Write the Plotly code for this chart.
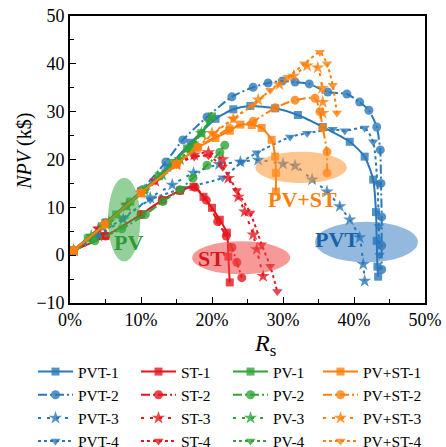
import plotly.graph_objects as go

# ---- data (x in %, NPV in k$) ----
pvt1_x = [0.5, 5, 10, 13.7, 17, 20.5, 23, 25.4, 28.9, 32.1, 35.6, 39.4, 41.5, 42.7, 43.1, 43.2, 43.3, 43.4]
pvt1_y = [1, 6.8, 13.3, 18.3, 23.5, 28.5, 30.5, 31.2, 30.7, 29.3, 26.8, 23.7, 20.6, 15.8, 9, 3, -2.4, -4.5]
pvt2_x = [0.5, 5, 10, 13.5, 15.9, 19.3, 22.8, 25.8, 27.9, 29.9, 31.7, 33.7, 36.3, 39, 40.8, 42.1, 43.2, 43.7, 43.8, 43.9, 43.9, 43.9]
pvt2_y = [1, 6.8, 13.5, 19.5, 24.1, 28.9, 33.1, 35.1, 36, 36.4, 36.2, 35.8, 34.1, 33.7, 32, 30.3, 26.8, 22, 15, 8, 2, -3]
pvt3_x = [0.5, 4, 7.5, 11.3, 14.4, 17.4, 21, 24, 26.5, 30, 31.7, 34.1, 36.2, 38, 39.4, 40.8, 41.3, 41.5]
pvt3_y = [1, 4, 7.5, 12, 14.7, 17.2, 19, 19.5, 19.9, 19.1, 18.7, 15.8, 13.3, 10.2, 7.4, 3.7, -1.9, -5.4]
pvt4_x = [0.5, 4, 7.5, 11.3, 16, 21.5, 24.2, 26.3, 31, 33.4, 37, 38.7, 41.5, 42.7, 43.3, 43.5, 43.6]
pvt4_y = [1, 4.2, 7.8, 11.6, 14, 16.2, 19.5, 21.4, 24.7, 25.5, 26.3, 26, 26.6, 23.7, 15, 6, 0]

st1_x = [0.5, 5, 10, 13, 15.5, 17.4, 18.8, 20, 21.1, 22.1, 22.3, 22.5]
st1_y = [1, 4, 8.5, 11.5, 13.5, 14.3, 12.2, 9.9, 7.4, 4.7, -0.3, -5.7]
st2_x = [0.5, 5, 10, 13, 15.5, 17.6, 19.2, 20.8, 22, 22.8, 23.5, 24.2]
st2_y = [1, 4, 8.5, 11.5, 13.5, 14.2, 11.5, 7, 4, 1.6, -1.5, -4.7]
st3_x = [0.5, 4, 8, 12, 15, 17.5, 19.5, 21.5, 22.3, 23.7, 24.6, 25.8, 26.3, 27.2]
st3_y = [1, 5.5, 10.5, 15.5, 19, 21, 21.5, 20, 16.1, 12.2, 9.1, 4.3, 1.2, -4.4]
st4_x = [0.5, 4, 8, 12, 15, 17.5, 19.5, 21.5, 23.5, 25.4, 27, 28.2, 29.2]
st4_y = [1, 5.5, 10.5, 15.5, 19, 20.5, 20.8, 18.4, 13.5, 8.8, 2.2, -2.3, -7.6]

pv1_x = [0.5, 2.5, 4.5, 6.5, 8.5, 10.5, 12.5, 14.5, 16.5, 18.5, 20]
pv1_y = [1, 3.5, 6, 8.5, 11.2, 13.8, 16.5, 19.3, 22.3, 25.5, 29]
pv2_x = [0.5, 3.5, 7.3, 10.6, 13.1, 15.5, 17.3, 19.3, 21.1, 21.8]
pv2_y = [1, 3, 5.5, 8.5, 11.2, 13.7, 16.1, 18.8, 21.5, 23]
pv3_x = [0.5, 3, 5.5, 8, 10.5, 13, 15.5, 17, 18.5]
pv3_y = [1, 4, 7, 10.2, 13.5, 16.8, 20, 22.3, 25.5]
pv4_x = [0.5, 3, 5.5, 8, 10.5, 13, 15.5, 17.5, 19.5]
pv4_y = [1, 4, 7, 10.2, 13.5, 16.8, 20, 23.3, 28]

pvst1_x = [0.5, 5, 10, 15, 18, 20.5, 22.5, 24, 25.6, 27, 28.4, 28.9, 29, 29]
pvst1_y = [1, 6.5, 13, 19, 22.5, 24.5, 26, 27.3, 27.2, 26.6, 24.1, 20.6, 17.2, 13.3]
pvst2_x = [0.5, 5, 10, 15, 18, 22.5, 25.8, 28.9, 31.7, 34.5, 35.2, 35.6, 36.2, 36.2]
pvst2_y = [1, 6.5, 13, 19, 22.5, 26.5, 28, 30.8, 32.4, 32.8, 30, 26.6, 21.6, 17.2]
pvst3_x = [0.5, 5, 10, 15, 20, 23, 26.5, 29.5, 31.5, 33.4, 34.9, 35.5, 35.6, 35.6]
pvst3_y = [1, 6.5, 13, 19, 25.5, 28.5, 32.5, 35.7, 37.5, 39.6, 39.2, 34.9, 32, 29.7]
pvst4_x = [0.5, 5, 10, 15, 20.2, 23, 25.7, 28.2, 30.7, 33, 35.2, 36.2, 37, 37.6]
pvst4_y = [1, 6.5, 13, 19, 25.4, 28.5, 31.3, 34.5, 37.2, 40, 42.4, 40, 35.5, 29.7]

BLUE = "#2b78b8"
RED = "#e3161e"
GREEN = "#2fa336"
ORANGE = "#ff7f0e"
SERIF = "Liberation Serif, Times New Roman, serif"

dash2 = "9px,3px,2px,3px"
dash3 = "3px,6px"
# (name, x, y, colour, dash, symbol, size, legend column)
series = [
    ("PVT-1", pvt1_x, pvt1_y, BLUE, "solid", "square", 8, "legend"),
    ("PVT-2", pvt2_x, pvt2_y, BLUE, dash2, "circle", 9, "legend"),
    ("PVT-3", pvt3_x, pvt3_y, BLUE, dash3, "star", 10, "legend"),
    ("PVT-4", pvt4_x, pvt4_y, BLUE, "dot", "triangle-down", 9, "legend"),
    ("ST-1", st1_x, st1_y, RED, "solid", "square", 8, "legend2"),
    ("ST-2", st2_x, st2_y, RED, dash2, "circle", 9, "legend2"),
    ("ST-3", st3_x, st3_y, RED, dash3, "star", 10, "legend2"),
    ("ST-4", st4_x, st4_y, RED, "dot", "triangle-down", 9, "legend2"),
    ("PV-1", pv1_x, pv1_y, GREEN, "solid", "square", 8, "legend3"),
    ("PV-2", pv2_x, pv2_y, GREEN, dash2, "circle", 9, "legend3"),
    ("PV-3", pv3_x, pv3_y, GREEN, dash3, "star", 10, "legend3"),
    ("PV-4", pv4_x, pv4_y, GREEN, "dot", "triangle-down", 9, "legend3"),
    ("PV+ST-1", pvst1_x, pvst1_y, ORANGE, "solid", "square", 8, "legend4"),
    ("PV+ST-2", pvst2_x, pvst2_y, ORANGE, dash2, "circle", 9, "legend4"),
    ("PV+ST-3", pvst3_x, pvst3_y, ORANGE, dash3, "star", 10, "legend4"),
    ("PV+ST-4", pvst4_x, pvst4_y, ORANGE, "dot", "triangle-down", 9, "legend4"),
]

fig = go.Figure()
for name, xs, ys, col, dash, sym, sz, leg in series:
    fig.add_trace(go.Scatter(
        x=[v / 100 for v in xs], y=ys, name=name, mode="lines+markers", legend=leg,
        line=dict(color=col, width=2, dash=dash, shape="spline", smoothing=0.6),
        marker=dict(symbol=sym, size=sz, color=col, opacity=0.8, line=dict(width=0)),
    ))

# group ellipses and labels
groups = [
    ("PV", 5.35, 9.9, -1.3, 16.2, "rgba(60,170,70,0.55)", 8.3, 2.6),
    ("ST", 17.2, 31.0, -4.0, 2.9, "rgba(240,70,70,0.55)", 19.9, -0.6),
    ("PV+ST", 26.1, 39.0, 15.1, 21.6, "rgba(255,150,50,0.55)", 32.7, 11.6),
    ("PVT", 34.5, 49.0, -1.5, 7.0, "rgba(40,115,190,0.5)", 37.6, 3.3),
]
label_colors = {"PV": "#2e9a35", "ST": "#d8141c", "PV+ST": "#ff7f0e", "PVT": "#1a62a8"}
for txt, x0, x1, y0, y1, fill, tx, ty in groups:
    fig.add_shape(type="circle", xref="x", yref="y", x0=x0 / 100, x1=x1 / 100, y0=y0, y1=y1,
                  fillcolor=fill, line=dict(width=0), layer="above")
    fig.add_annotation(x=tx / 100, y=ty, text="<b>%s</b>" % txt, showarrow=False,
                       font=dict(family=SERIF, size=22, color=label_colors[txt]))

# axis titles
fig.add_annotation(xref="paper", yref="paper", x=0.549, y=-0.146, text="<i>R</i><sub>s</sub>",
                   showarrow=False, xanchor="center", yanchor="middle",
                   font=dict(family=SERIF, size=24, color="black"))
fig.add_annotation(xref="paper", yref="paper", x=-0.127, y=0.53, text="<i>NPV</i> (k$)",
                   showarrow=False, textangle=-90, xanchor="center", yanchor="middle",
                   font=dict(family=SERIF, size=20, color="black"))

axis_common = dict(showline=True, linecolor="black", linewidth=1.6, mirror=True,
                   ticks="inside", ticklen=6, tickwidth=1.2, tickcolor="black",
                   showgrid=False, zeroline=False,
                   tickfont=dict(family=SERIF, size=18, color="black"))

fig.update_xaxes(range=[0, 0.5], tickvals=[0, 0.1, 0.2, 0.3, 0.4, 0.5], tickformat=".0%",
                 minor=dict(ticks="inside", ticklen=4, tickwidth=1, tickcolor="black", dtick=0.05),
                 **axis_common)
fig.update_yaxes(range=[-10, 50], tickvals=[-10, 0, 10, 20, 30, 40, 50],
                 minor=dict(ticks="inside", ticklen=4, tickwidth=1, tickcolor="black", dtick=5),
                 **axis_common)

leg_common = dict(orientation="v", xref="container", yref="container", y=1 - 355 / 447,
                  xanchor="left", yanchor="top", itemwidth=35, traceorder="normal",
                  font=dict(family=SERIF, size=15.5, color="black"), bgcolor="rgba(0,0,0,0)")
fig.update_layout(
    width=446, height=447,
    margin=dict(l=70, r=21, t=16, b=144, autoexpand=False),
    paper_bgcolor="white", plot_bgcolor="white",
    font=dict(family=SERIF),
    showlegend=True,
    legend=dict(x=33 / 446, **leg_common),
    legend2=dict(x=136 / 446, **leg_common),
    legend3=dict(x=228 / 446, **leg_common),
    legend4=dict(x=318 / 446, **leg_common),
)

fig.write_html("out.html")
